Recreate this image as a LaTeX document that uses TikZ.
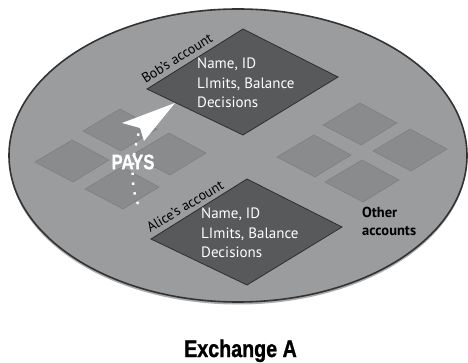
\documentclass[tikz,border=0pt]{standalone}
\usepackage{fontspec}
\setmainfont{PT Sans}
\newfontfamily\boldcond{Liberation Sans Bold}[FakeBold=1.2]
\definecolor{ellfill}{HTML}{9B9C9E}
\definecolor{ellline}{HTML}{333334}
\definecolor{bigfill}{HTML}{58595B}
\definecolor{bigline}{HTML}{2E2E2F}
\definecolor{smallfill}{HTML}{8A8B8D}
\definecolor{smallline}{HTML}{7C7D7F}
\tikzset{
  bigbox/.style={fill=bigfill, draw=bigline, line width=0.8pt, line join=miter},
  smallbox/.style={fill=smallfill, draw=smallline, line width=0.5pt},
  sdia/.pic={\path[smallbox] (0,-21) -- (37,-1) -- (1,21) -- (-37,1) -- cycle;},
  bdia/.pic={\path[bigbox] (0,-53) -- (95,-5) -- (0,53) -- (-96,7) -- cycle;},
  infotext/.style={text=white, font=\fontsize{15}{19.5}\selectfont, align=left, anchor=west, inner sep=0pt},
  acclabel/.style={text=black, font=\fontsize{14}{15}\selectfont, inner sep=0pt},
}
\begin{document}
\begin{tikzpicture}[x=1pt,y=-1pt]
\useasboundingbox[fill=white] (0,0) rectangle (468,363);
% shadow and ellipse
\fill[black!55, opacity=0.6] (238,158) ellipse [x radius=229pt, y radius=146.5pt];
\draw[fill=ellfill, draw=ellline, line width=1.6pt] (238,155.5) ellipse [x radius=229pt, y radius=146.5pt];
% small diamonds, left cluster
\pic at (120,130) {sdia};
\pic at (72,161) {sdia};
\pic at (169,154) {sdia};
\pic at (122,188) {sdia};
% small diamonds, right cluster
\pic at (360,124) {sdia};
\pic at (314,156) {sdia};
\pic at (410,150) {sdia};
\pic at (362,181) {sdia};
% big diamonds
\pic at (243,82) {bdia};
\pic at (247,232) {bdia};
% texts in big diamonds
\node[infotext] (bobinfo) at (197,83) {Name, ID\\LImits, Balance\\Decisions};
\node[infotext] (aliceinfo) at (201,233) {Name, ID\\LImits, Balance\\Decisions};
% account labels
\node[acclabel, rotate=32] (boblabel) at (177,58) {Bob's account};
\node[acclabel, rotate=31] (alicelabel) at (185,206) {Alice's account};
% pays arrow
\coordinate (paysstart) at (138,204);
\coordinate (paysnotch) at (140,128);
\draw[white, line width=2.4pt, dash pattern=on 2.4pt off 7.5pt] (paysstart) .. controls (128,180) and (134,150) .. (paysnotch);
\fill[white] (175,103) -- (122,123) -- (paysnotch) -- (144,141) -- cycle;
\node[text=white, inner sep=0pt] (pays) at (133,162) {\scalebox{0.8}[1]{\boldcond\fontsize{21}{21}\selectfont PAYS}};
% other accounts
\node[anchor=west, align=left, inner sep=0pt, font=\bfseries\fontsize{14.5}{18}\selectfont] (other) at (362,221) {Other\\accounts};
% title
\node[anchor=base, inner sep=0pt] (title) at (240.5,357) {\scalebox{0.82}[1]{\boldcond\fontsize{24}{24}\selectfont Exchange A}};
\end{tikzpicture}
\end{document}
